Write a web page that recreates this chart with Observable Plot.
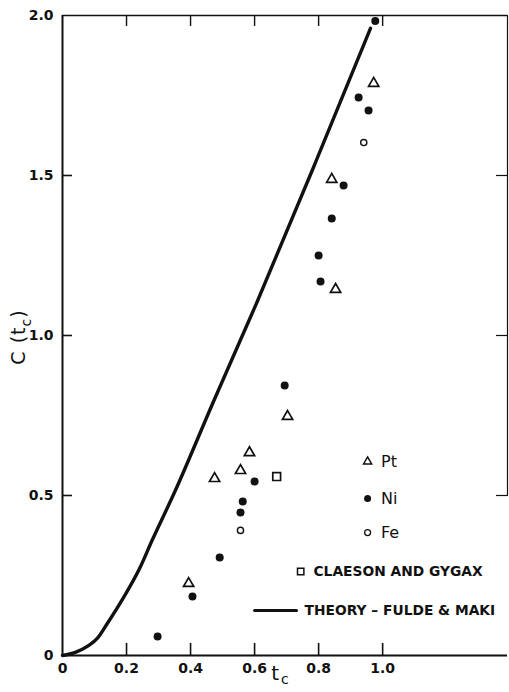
<!DOCTYPE html>
<html><head><meta charset="utf-8">
<script src="https://cdn.jsdelivr.net/npm/d3@7"></script>
<script src="https://cdn.jsdelivr.net/npm/@observablehq/plot@0.6"></script>
<style>body{margin:0;background:#fff}#chart{width:509px;height:692px}</style>
</head><body><div id="chart"></div>
<script>
// ---- data ----
const ptX = [0.972, 0.841, 0.853, 0.703, 0.584, 0.556, 0.475, 0.394];
const ptY = [1.788, 1.488, 1.144, 0.747, 0.634, 0.578, 0.553, 0.225];
const niX = [0.977, 0.925, 0.956, 0.878, 0.841, 0.800, 0.806, 0.694, 0.600, 0.563, 0.556, 0.491, 0.406, 0.297];
const niY = [1.983, 1.744, 1.703, 1.469, 1.366, 1.250, 1.169, 0.844, 0.544, 0.481, 0.447, 0.306, 0.184, 0.059];
const feX = [0.941, 0.556];
const feY = [1.603, 0.391];
const cgX = [0.669];
const cgY = [0.559];
const theoryX = [0, 0.04, 0.08, 0.11, 0.14, 0.19, 0.24, 0.28, 0.35, 0.47, 0.61, 0.79, 0.962];
const theoryY = [0, 0.01, 0.03, 0.055, 0.10, 0.18, 0.27, 0.36, 0.51, 0.79, 1.11, 1.54, 1.96];
const xTickLabels = [0, 0.2, 0.4, 0.6, 0.8, 1.0];
const xTickMarks = [0.2, 0.4, 0.6, 0.8, 1.0];
const yTickLabels = [0, 0.5, 1.0, 1.5, 2.0];
const yTickMarks = [0.5, 1.0, 1.5];
const seriesNames = ["Pt", "Ni", "Fe", "CLAESON AND GYGAX", "THEORY – FULDE & MAKI"];

const rows = (xs, ys) => xs.map((x, i) => ({x, y: ys[i]}));
const pt = rows(ptX, ptY), ni = rows(niX, niY), fe = rows(feX, feY), cg = rows(cgX, cgY), theory = rows(theoryX, theoryY);
const fmt = d => d === 0 ? "0" : d.toFixed(1);
const ink = "#111";
const font = "'DejaVu Sans', sans-serif";
const xMax = 1.39;

// legend layout (in chart units, inside the frame)
const legSym = 0.953, legTxt = 0.995;
const legPt = 0.606, legNi = 0.491, legFe = 0.384;
const legCG = 0.2625, legTh = 0.141;

const chart = Plot.plot({
  width: 509, height: 692,
  marginLeft: 62, marginRight: 2, marginTop: 15, marginBottom: 37,
  x: {domain: [0, xMax]},
  y: {domain: [0, 2]},
  style: {fontFamily: font, fontSize: "14px", color: ink, background: "#fff", overflow: "visible"},
  marks: [
    // frame lines
    Plot.ruleY([0], {stroke: ink, strokeWidth: 2}),
    Plot.ruleX([0], {stroke: ink, strokeWidth: 2}),
    Plot.ruleY([2], {stroke: ink, strokeWidth: 1.4}),
    Plot.ruleX([xMax], {y1: 0.5, y2: 2, stroke: ink, strokeWidth: 1.2}),
    // inward ticks
    Plot.axisX(xTickMarks, {anchor: "bottom", tickSize: -12, tickFormat: () => "", label: null, strokeWidth: 1.6}),
    Plot.axisX(xTickMarks, {anchor: "top", tickSize: -10, tickFormat: () => "", label: null, strokeWidth: 1.4}),
    Plot.axisY(yTickMarks, {anchor: "left", tickSize: -10, tickFormat: () => "", label: null, strokeWidth: 1.6}),
    Plot.axisY(yTickMarks, {anchor: "right", tickSize: -12, tickFormat: () => "", label: null, strokeWidth: 1.2}),
    // tick labels
    Plot.axisX(xTickLabels, {anchor: "bottom", tickSize: 0, tickPadding: 8, tickFormat: fmt, label: null, fontWeight: "bold", fontSize: 14}),
    Plot.axisY(yTickLabels, {anchor: "left", tickSize: 0, tickPadding: 9, tickFormat: fmt, label: null, fontWeight: "bold", fontSize: 14}),
    // theory curve
    Plot.line(theory, {x: "x", y: "y", stroke: ink, strokeWidth: 3.4, curve: "monotone-x"}),
    // data
    Plot.dot(pt, {x: "x", y: "y", symbol: "triangle", r: 3.8, stroke: ink, strokeWidth: 1.7, fill: "#fff"}),
    Plot.dot(ni, {x: "x", y: "y", r: 4, fill: ink, stroke: "none"}),
    Plot.dot(fe, {x: "x", y: "y", r: 3.1, stroke: ink, strokeWidth: 1.4, fill: "#fff"}),
    Plot.dot(cg, {x: "x", y: "y", symbol: "square", r: 4.4, stroke: ink, strokeWidth: 1.7, fill: "#fff"}),
    // legend
    Plot.dot([{x: legSym, y: legPt}], {x: "x", y: "y", symbol: "triangle", r: 3, stroke: ink, strokeWidth: 1.5, fill: "#fff"}),
    Plot.dot([{x: legSym, y: legNi}], {x: "x", y: "y", r: 3.5, fill: ink}),
    Plot.dot([{x: legSym, y: legFe}], {x: "x", y: "y", r: 3, stroke: ink, strokeWidth: 1.3, fill: "#fff"}),
    Plot.text([seriesNames[0]], {x: legTxt, y: legPt, text: d => d, textAnchor: "start", fontSize: 16, letterSpacing: 5}),
    Plot.text([seriesNames[1]], {x: legTxt, y: legNi, text: d => d, textAnchor: "start", fontSize: 16, letterSpacing: 5}),
    Plot.text([seriesNames[2]], {x: legTxt, y: legFe, text: d => d, textAnchor: "start", fontSize: 16, letterSpacing: 5}),
    Plot.dot([{x: 0.744, y: legCG}], {x: "x", y: "y", symbol: "square", r: 3.6, stroke: ink, strokeWidth: 1.5, fill: "#fff"}),
    Plot.text([seriesNames[3]], {x: 0.784, y: legCG, text: d => d, textAnchor: "start", fontSize: 13.8, fontWeight: "bold"}),
    Plot.line([{x: 0.60, y: legTh}, {x: 0.731, y: legTh}], {x: "x", y: "y", stroke: ink, strokeWidth: 3}),
    Plot.text([seriesNames[4]], {x: 0.756, y: legTh, text: d => d, textAnchor: "start", fontSize: 13.8, fontWeight: "bold"})
  ]
});

document.getElementById("chart").appendChild(chart);

// axis titles with subscripts
const svg = d3.select(chart);
const yl = svg.append("text")
  .attr("transform", "translate(19,337) rotate(-90)")
  .attr("text-anchor", "middle").attr("dominant-baseline", "middle")
  .attr("font-family", font).attr("font-size", 19).attr("font-weight", "normal").attr("fill", ink).attr("letter-spacing", 1);
yl.append("tspan").text("C (t");
yl.append("tspan").attr("baseline-shift", "sub").attr("font-size", 14).text("c");
yl.append("tspan").text(")");
const xl = svg.append("text")
  .attr("x", 280).attr("y", 680)
  .attr("text-anchor", "middle")
  .attr("font-family", font).attr("font-size", 20).attr("font-weight", "normal").attr("fill", ink);
xl.append("tspan").text("t");
xl.append("tspan").attr("dy", 4).attr("dx", 2).attr("font-size", 14).text("c");
</script>
</body></html>
